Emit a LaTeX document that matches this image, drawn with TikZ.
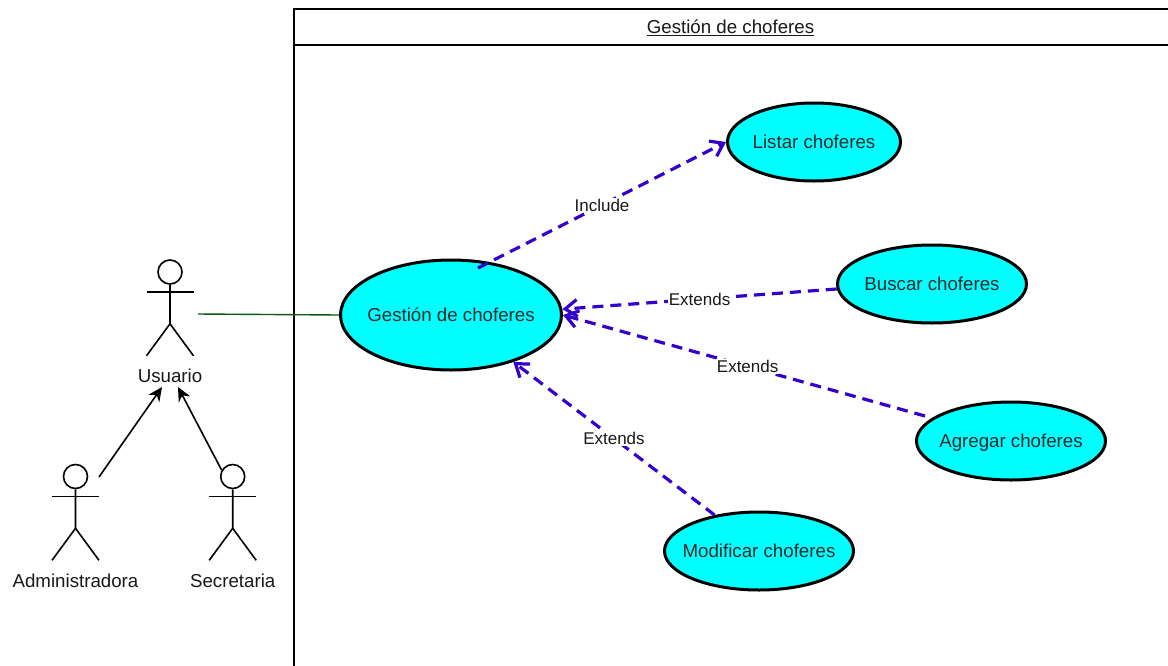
\documentclass[tikz,border=0pt]{standalone}
\usepackage{fontspec}
\setmainfont{Liberation Sans}
\usepackage{tikz}
\usetikzlibrary{shapes.geometric, arrows.meta}
\definecolor{casecyan}{HTML}{00FFFF}
\definecolor{edgeblue}{HTML}{3300CC}
\definecolor{linkgreen}{HTML}{0B5A12}
\definecolor{casetext}{HTML}{2A2A2A}
\tikzstyle{usecase} = [ellipse, minimum width=189pt, minimum height=78pt, inner sep=0pt, text centered, text height=17pt, text depth=4pt, draw=black, line width=3pt, fill=casecyan, text=casetext, font=\fontsize{18.7}{22}\selectfont]
\tikzstyle{head} = [circle, minimum size=24pt, inner sep=0pt, draw=black, line width=1.6pt]
\tikzstyle{limb} = [draw=black, line width=1.6pt]
\tikzstyle{figname} = [font=\fontsize{18.7}{22}\selectfont, text=black!90, inner sep=1pt]
\tikzstyle{tag} = [font=\fontsize{17}{20}\selectfont, text=black!90, fill=white, inner sep=1pt]
\tikzstyle{arrow} = [-{Stealth[length=14pt, width=13pt]}, line width=1.6pt]
\tikzstyle{dasharrow} = [-{Straight Barb[length=12pt, width=17pt]}, draw=edgeblue, line width=3.2pt, dash pattern=on 11pt off 7pt]
% text that does not widen its ellipse
\newcommand{\casename}[1]{\makebox[0pt]{#1}}
% stick figure: name, x, y of head, text
\newcommand{\stickman}[4]{
	\node (#1) [head] at (#2,#3) {};
	\draw [limb] (#1.south) -- ++(0,39) coordinate (#1hip) -- ++(-23.5,32);
	\draw [limb] (#1hip) -- ++(23.5,32);
	\draw [limb] (#2-23.5,#3+20) -- (#2+23.5,#3+20);
	\node (#1name) [figname] at (#2,#3+104) {#4};
}
\begin{document}
\begin{tikzpicture}[x=1pt, y=-1pt]
	\clip (0,0) rectangle (1168,665);
	\fill [white] (0,0) rectangle (1168,665);
	\draw [limb] (294,9) rectangle (1180,680);
	\draw [limb] (294,45) -- (1180,45);
	\node (title) [figname] at (730.5,27.5) {\underline{Gestión de choferes}};

	\stickman{usuario}{170}{272}{Usuario}
	\stickman{admin}{75.5}{476.5}{Administradora}
	\stickman{secre}{232.7}{476.5}{Secretaria}

	\node (gestion) [usecase, minimum width=221pt, minimum height=110pt] at (451,315) {\casename{Gestión de choferes}};
	\node (listar) [usecase, minimum width=173pt] at (814,142) {\casename{Listar choferes}};
	\node (buscar) [usecase] at (932,284) {\casename{Buscar choferes}};
	\node (agregar) [usecase] at (1011,441) {\casename{Agregar choferes}};
	\node (modificar) [usecase] at (759,551) {\casename{Modificar choferes}};

	\coordinate (usuarioright) at (198,314);
	\coordinate (adminright) at (99,477);
	\coordinate (usuarioleft) at (162,387);
	\coordinate (usuariomid) at (178,387);
	\coordinate (includestart) at (478,268);
	\coordinate (agregarstart) at (925,416);

	\draw [linkgreen, line width=1.4pt] (usuarioright) -- (gestion.west);
	\draw [arrow] (adminright) -- (usuarioleft);
	\draw [arrow] (secre.150) -- (usuariomid);

	\draw [dasharrow] (includestart) -- node (include) [tag, pos=0.5, solid] {Include} (listar.west);
	\draw [dasharrow] (buscar.183) -- node (extbuscar) [tag, pos=0.5, solid] {Extends} (gestion.3);
	\draw [dasharrow] (agregarstart) -- node (extagregar) [tag, pos=0.49, solid] {Extends} (gestion.east);
	\draw [dasharrow] (modificar.141) -- node (extmodif) [tag, pos=0.5, solid] {Extends} (gestion.-37);
\end{tikzpicture}
\end{document}
